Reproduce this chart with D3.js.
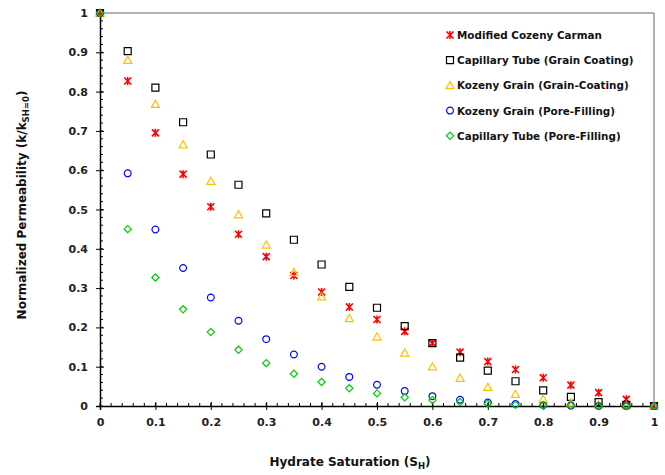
<!DOCTYPE html>
<html>
<head>
<meta charset="utf-8">
<script src="https://cdn.jsdelivr.net/npm/d3@7"></script>
<style>
  body { margin: 0; background: #fff; }
  svg text { font-family: "DejaVu Sans", Verdana, sans-serif; }
</style>
</head>
<body>
<div id="chart"></div>
<script>
// hydrate saturation values
var satur = [0, 0.05, 0.1, 0.15, 0.2, 0.25, 0.3, 0.35, 0.4, 0.45, 0.5,
             0.55, 0.6, 0.65, 0.7, 0.75, 0.8, 0.85, 0.9, 0.95, 1];

var modCozeny   = [1, 0.827, 0.695, 0.59, 0.507, 0.437, 0.38, 0.332, 0.29, 0.252, 0.22,
                   0.19, 0.16, 0.137, 0.113, 0.093, 0.072, 0.053, 0.034, 0.017, 0];
var capGrain    = [1, 0.903, 0.81, 0.722, 0.64, 0.563, 0.49, 0.423, 0.36, 0.303, 0.25,
                   0.203, 0.16, 0.123, 0.09, 0.063, 0.04, 0.023, 0.01, 0.003, 0];
var kozGrain    = [1, 0.88, 0.768, 0.665, 0.572, 0.487, 0.41, 0.34, 0.278, 0.223, 0.176,
                   0.135, 0.1, 0.071, 0.048, 0.03, 0.017, 0.008, 0.003, 0.001, 0];
var kozPore     = [1, 0.592, 0.449, 0.351, 0.276, 0.217, 0.17, 0.131, 0.1, 0.074, 0.054,
                   0.038, 0.025, 0.016, 0.009, 0.005, 0.002, 0.001, 0, 0, 0];
var capPore     = [1, 0.45, 0.327, 0.246, 0.188, 0.143, 0.109, 0.082, 0.061, 0.045, 0.032,
                   0.022, 0.015, 0.01, 0.006, 0.003, 0.002, 0.001, 0, 0, 0];

var seriesNames = ["Modified Cozeny Carman", "Capillary Tube (Grain Coating)",
                   "Kozeny Grain (Grain-Coating)", "Kozeny Grain (Pore-Filling)",
                   "Capillary Tube (Pore-Filling)"];
var seriesVals = [modCozeny, capGrain, kozGrain, kozPore, capPore];
var seriesColors = ["#ff0000", "#000000", "#ffc000", "#0000ff", "#00cc00"];
var seriesShapes = ["star", "square", "triangle", "circle", "diamond"];

var xTicks = [0, 0.1, 0.2, 0.3, 0.4, 0.5, 0.6, 0.7, 0.8, 0.9, 1];
var yTicks = [0, 0.1, 0.2, 0.3, 0.4, 0.5, 0.6, 0.7, 0.8, 0.9, 1];

var width = 665, height = 475;
var margin = {top: 13, right: 11, bottom: 69, left: 100};
var plotW = width - margin.left - margin.right,
    plotH = height - margin.top - margin.bottom;

var svg = d3.select("#chart").append("svg")
    .attr("width", width)
    .attr("height", height);

var x = d3.scaleLinear().domain([0, 1]).range([margin.left, margin.left + plotW]);
var y = d3.scaleLinear().domain([0, 1]).range([margin.top + plotH, margin.top]);

// frame: gray top and right
svg.append("line")
    .attr("x1", x(0)).attr("x2", x(1))
    .attr("y1", y(1)).attr("y2", y(1))
    .attr("stroke", "#999").attr("stroke-width", 1.5);
svg.append("line")
    .attr("x1", x(1)).attr("x2", x(1))
    .attr("y1", y(1)).attr("y2", y(0))
    .attr("stroke", "#999").attr("stroke-width", 1.5);

// minor ticks
var minor = d3.range(0, 1.001, 0.02);
svg.append("g").selectAll("line").data(minor).enter().append("line")
    .attr("x1", function (d) { return x(d); })
    .attr("x2", function (d) { return x(d); })
    .attr("y1", y(0)).attr("y2", y(0) - 3)
    .attr("stroke", "#000");
svg.append("g").selectAll("line").data(minor).enter().append("line")
    .attr("y1", function (d) { return y(d); })
    .attr("y2", function (d) { return y(d); })
    .attr("x1", x(0)).attr("x2", x(0) + 3)
    .attr("stroke", "#000");

// axes
var xAxis = svg.append("g")
    .attr("transform", "translate(0," + y(0) + ")")
    .call(d3.axisBottom(x).tickValues(xTicks).tickSize(4)
        .tickFormat(function (d) { return d3.format("")(d); }));
xAxis.selectAll(".tick line").attr("y1", -4).attr("y2", 4);
var yAxis = svg.append("g")
    .attr("transform", "translate(" + x(0) + ",0)")
    .call(d3.axisLeft(y).tickValues(yTicks).tickSize(4)
        .tickFormat(function (d) { return d3.format("")(d); }));
yAxis.selectAll(".tick line").attr("x1", -4).attr("x2", 4);

[xAxis, yAxis].forEach(function (a) {
    a.select(".domain").attr("stroke", "#000").attr("stroke-width", 1.5);
    a.selectAll(".tick text")
        .attr("font-family", "DejaVu Sans")
        .attr("font-size", "11px")
        .attr("font-weight", "bold")
        .attr("fill", "#222");
});
xAxis.selectAll(".tick text").attr("dy", "0").attr("y", 20);
yAxis.selectAll(".tick text").attr("x", -12);

// markers
function markerPath(shape) {
    if (shape === "star") {
        return "M-3.5,-3.5L3.5,3.5M-3.5,3.5L3.5,-3.5M0,-4L0,4";
    }
    if (shape === "square") return "M-3.5,-3.5H3.5V3.5H-3.5Z";
    if (shape === "triangle") return "M0,-4L4,3.2L-4,3.2Z";
    if (shape === "diamond") return "M0,-3.6L3.6,0L0,3.6L-3.6,0Z";
    return d3.symbol().type(d3.symbolCircle).size(36)();
}

seriesVals.forEach(function (vals, i) {
    svg.append("g").selectAll("path")
        .data(vals).enter().append("path")
        .attr("transform", function (d, j) {
            return "translate(" + x(satur[j]) + "," + y(d) + ")";
        })
        .attr("d", markerPath(seriesShapes[i]))
        .attr("fill", "none")
        .attr("stroke", seriesColors[i])
        .attr("stroke-width", seriesShapes[i] === "star" ? 1.6 : 1.2);
});

// legend
var legend = svg.append("g").attr("transform", "translate(450,35)");
seriesNames.forEach(function (name, i) {
    var row = legend.append("g").attr("transform", "translate(0," + (i * 25.2) + ")");
    row.append("path")
        .attr("d", markerPath(seriesShapes[i]))
        .attr("fill", "none")
        .attr("stroke", seriesColors[i])
        .attr("stroke-width", seriesShapes[i] === "star" ? 1.6 : 1.2);
    row.append("text")
        .attr("x", 7)
        .attr("y", 4)
        .attr("font-size", "10.4px")
        .attr("font-weight", "bold")
        .attr("fill", "#111")
        .text(name);
});

// axis titles
var xt = svg.append("text")
    .attr("x", 350)
    .attr("y", 466)
    .attr("text-anchor", "middle")
    .attr("font-size", "12px")
    .attr("font-weight", "bold")
    .attr("fill", "#111");
xt.append("tspan").text("Hydrate Saturation (S");
xt.append("tspan").attr("font-size", "8.5px").attr("dy", 3).text("H");
xt.append("tspan").attr("dy", -3).text(")");

var yt = svg.append("text")
    .attr("transform", "translate(26,205) rotate(-90)")
    .attr("text-anchor", "middle")
    .attr("font-size", "12px")
    .attr("font-weight", "bold")
    .attr("fill", "#111");
yt.append("tspan").text("Normalized Permeability (k/k");
yt.append("tspan").attr("font-size", "8.5px").attr("dy", 3).text("SH=0");
yt.append("tspan").attr("dy", -3).text(")");
</script>
</body>
</html>
